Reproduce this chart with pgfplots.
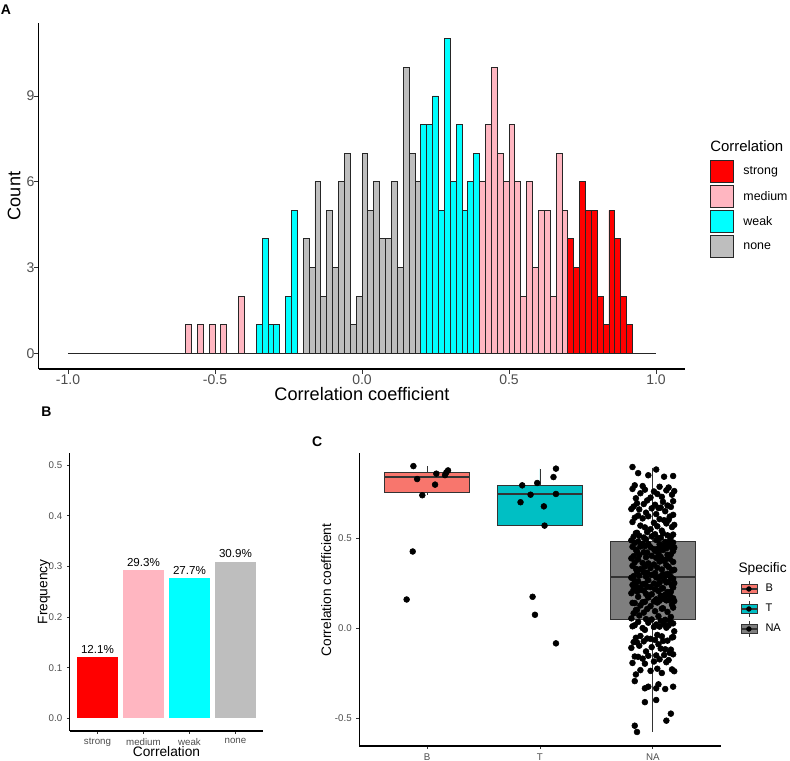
\documentclass[border=0pt]{standalone}
\usepackage{pgfplots}
\pgfplotsset{compat=1.18}
\usepgfplotslibrary{statistics}
\usepackage{fontspec}
\setmainfont{Liberation Sans}
\definecolor{cstrong}{HTML}{FF0000}
\definecolor{cmedium}{HTML}{FFB6C1}
\definecolor{cweak}{HTML}{00FFFF}
\definecolor{cnone}{HTML}{BEBEBE}
\definecolor{cB}{HTML}{F8766D}
\definecolor{cT}{HTML}{00BFC4}
\definecolor{cNA}{HTML}{7F7F7F}
\definecolor{g20}{HTML}{333333}
\definecolor{g30}{HTML}{4D4D4D}
\newcommand{\fs}[1]{\fontsize{#1}{#1}\selectfont}
\pgfplotsset{gg/.style={
  scale only axis, clip=false, anchor=south west,
  axis x line*=bottom, axis y line*=left,
  axis line style={black, line width=0.8pt},
  tick style={g20, line width=0.6pt},
  tick align=outside,
  ticklabel style={text=g30},
  every axis label/.append style={text=black},
}}
\begin{document}
\begin{tikzpicture}
\useasboundingbox (0,0) rectangle (592.5pt,-570.75pt);
% ---------------- Panel A ----------------
\begin{axis}[gg, at={(28.95pt,-276.75pt)}, width=485.1pt, height=259.5pt,
  xmin=-1.1, xmax=1.1, ymin=-0.55, ymax=11.55,
  xtick={-1,-0.5,0,0.5,1}, xticklabels={-1.0,-0.5,0.0,0.5,1.0},
  ytick={0,3,6,9}, yticklabels={0,3,6,9},
  major tick length=3.4pt,
  ticklabel style={font=\fs{10.5}},
  xticklabel style={inner sep=1pt, yshift=0.5pt},
  yticklabel style={inner sep=1.5pt, xshift=2pt},
  xlabel={Correlation coefficient}, ylabel={Count},
  label style={font=\fs{13.6}, inner sep=0pt},
  xlabel style={at={(axis description cs:0.5,-0.072)}, anchor=center},
  ylabel style={at={(axis description cs:-0.038,0.5)}, anchor=center},
  legend style={at={(axis description cs:1.0376,0.604)}, anchor=north west, draw=none, fill=none,
    inner sep=0pt, row sep=2pt, column sep=5.5pt, font=\fs{9.3}, text=black},
  legend cell align=left,
  legend image code/.code={\draw[#1, line width=0.6pt] (0pt,-8.1pt) rectangle (17pt,8.1pt);},
]
\addplot[black!85, line width=0.6pt, forget plot] coordinates {(-1,0) (1,0)};
\addplot[ybar, bar width=0.02, bar shift=0pt, fill=cstrong, draw=black!85, line width=0.6pt] coordinates {
(0.71,4) (0.73,3) (0.75,6) (0.77,5) (0.79,5) (0.81,2) (0.83,1) (0.85,5) (0.87,4) (0.89,2) (0.91,1)};
\addlegendentry{strong}
\addplot[ybar, bar width=0.02, bar shift=0pt, fill=cmedium, draw=black!85, line width=0.6pt] coordinates {
(-0.59,1) (-0.55,1) (-0.51,1) (-0.47,1) (-0.41,2)
(0.41,6) (0.43,8) (0.45,10) (0.47,7) (0.49,6) (0.51,8) (0.53,6) (0.55,2) (0.57,6) (0.59,3)
(0.61,5) (0.63,5) (0.65,2) (0.67,7) (0.69,5)};
\addlegendentry{medium}
\addplot[ybar, bar width=0.02, bar shift=0pt, fill=cweak, draw=black!85, line width=0.6pt] coordinates {
(-0.35,1) (-0.33,4) (-0.31,1) (-0.29,1) (-0.25,2) (-0.23,5)
(0.21,8) (0.23,8) (0.25,9) (0.27,5) (0.29,11) (0.31,6) (0.33,8) (0.35,5) (0.37,6) (0.39,7)};
\addlegendentry{weak}
\addplot[ybar, bar width=0.02, bar shift=0pt, fill=cnone, draw=black!85, line width=0.6pt] coordinates {
(-0.19,4) (-0.17,3) (-0.15,6) (-0.13,2) (-0.11,5) (-0.09,3) (-0.07,6) (-0.05,7) (-0.03,1) (-0.01,2)
(0.01,7) (0.03,5) (0.05,6) (0.07,4) (0.09,4) (0.11,6) (0.13,3) (0.15,10) (0.17,7) (0.19,6)};
\addlegendentry{none}
\end{axis}
% ---------------- Panel B ----------------
\begin{axis}[gg, at={(52.4pt,-548.25pt)}, width=144.9pt, height=208.8pt,
  xmin=0.4, xmax=4.6, ymin=-0.025, ymax=0.525,
  xtick={1,2,3,4}, xticklabels={strong,medium,weak,none},
  ytick={0,0.1,0.2,0.3,0.4,0.5}, yticklabels={0.0,0.1,0.2,0.3,0.4,0.5},
  ticklabel style={font=\fs{7.3}}, major tick length=2.2pt,
  xlabel={Correlation}, ylabel={Frequency},
  label style={font=\fs{10.3}, inner sep=0pt},
  xlabel style={at={(axis description cs:0.5,-0.0754)}, anchor=center},
  ylabel style={at={(axis description cs:-0.134,0.5)}, anchor=center},
  nodes near coords, point meta=explicit symbolic,
  every node near coord/.append style={font=\fs{8.7}, text=black, anchor=base, inner sep=0pt, yshift=3pt},
]
\addplot[ybar, bar width=0.9, bar shift=0pt, fill=cstrong, draw=none] coordinates {(1,0.121) [12.1\%]};
\addplot[ybar, bar width=0.9, bar shift=0pt, fill=cmedium, draw=none] coordinates {(2,0.293) [29.3\%]};
\addplot[ybar, bar width=0.9, bar shift=0pt, fill=cweak, draw=none] coordinates {(3,0.277) [27.7\%]};
\addplot[ybar, bar width=0.9, bar shift=0pt, fill=cnone, draw=none] coordinates {(4,0.309) [30.9\%]};
\end{axis}
% ---------------- Panel C ----------------
\begin{axis}[gg, at={(269.5pt,-559.5pt)}, width=270.9pt, height=219.5pt,
  xmin=0.4, xmax=3.6, ymin=-0.654, ymax=0.974,
  xtick={1,2,3}, xticklabels={B,T,NA},
  ytick={-0.5,0,0.5}, yticklabels={-0.5,0.0,0.5},
  ticklabel style={font=\fs{7.3}}, major tick length=2.2pt,
  ylabel={Correlation coefficient},
  label style={font=\fs{10.3}, inner sep=0pt},
  ylabel style={at={(axis description cs:-0.092,0.533)}, anchor=center},
  boxplot/draw direction=y,
  boxplot/every median/.style={line width=1.5pt},
  legend style={at={(axis description cs:1.054,0.565)}, anchor=north west, draw=none, fill=none,
    inner sep=0pt, row sep=2.9pt, column sep=4pt, font=\fs{8.3}, text=black},
  legend cell align=left,
]
\addplot[forget plot, boxplot prepared={draw position=1, median=0.843, upper quartile=0.868, lower quartile=0.757,
  upper whisker=0.902, lower whisker=0.741, box extend=0.75, whisker extend=0},
  fill=cB, draw=g20, line width=0.6pt] coordinates {};
\addplot[forget plot, boxplot prepared={draw position=2, median=0.746, upper quartile=0.798, lower quartile=0.572,
  upper whisker=0.889, lower whisker=0.572, box extend=0.75, whisker extend=0},
  fill=cT, draw=g20, line width=0.6pt] coordinates {};
\addplot[forget plot, boxplot prepared={draw position=3, median=0.287, upper quartile=0.485, lower quartile=0.050,
  upper whisker=0.894, lower whisker=-0.574, box extend=0.75, whisker extend=0},
  fill=cNA, draw=g20, line width=0.6pt] coordinates {};
% jittered points, group B
\addplot[forget plot, only marks, mark=*, mark size=2.2pt, mark options={fill=black, draw=black}] coordinates {
(0.879,0.903) (0.912,0.831) (0.958,0.741) (1.071,0.800) (1.082,0.861) (1.159,0.853) (1.171,0.868)
(1.186,0.879) (0.873,0.428) (0.819,0.161)};
% group T
\addplot[forget plot, only marks, mark=*, mark size=2.2pt, mark options={fill=black, draw=black}] coordinates {
(1.843,0.796) (1.976,0.809) (1.917,0.744) (2.142,0.748) (1.828,0.702) (2.035,0.679) (2.041,0.572)
(2.120,0.842) (2.142,0.889) (1.935,0.176) (1.956,0.076) (2.142,-0.083)};
% group NA
\addplot[forget plot, only marks, mark=*, mark size=2.2pt, mark options={fill=black, draw=black}] coordinates {
(2.86,-0.576) (2.84,-0.541) (3.12,-0.513) (3.16,-0.474) (2.93,-0.410) (3.03,-0.398)
(2.84,-0.293) (2.93,-0.333) (2.96,-0.324) (3.03,-0.333) (3.05,-0.311) (3.11,-0.337) (3.18,-0.324)
(2.85,-0.256) (3.08,-0.248)
(2.98,-0.236) (3.17,-0.228) (2.89,-0.232) (3.04,-0.224) (3.19,-0.238)
(2.93,-0.196) (3.12,-0.188) (2.82,-0.192) (3.01,-0.184)
(3.14,-0.176) (2.91,-0.168) (3.06,-0.172)
(2.84,-0.156) (3.10,-0.148) (2.96,-0.152) (3.18,-0.144) (2.87,-0.158) (3.03,-0.150)
(3.15,-0.136) (2.94,-0.128)
(3.11,-0.116) (2.81,-0.108) (3.07,-0.112) (2.99,-0.104) (3.16,-0.118)
(2.88,-0.096) (3.05,-0.088)
(2.83,-0.076) (3.13,-0.068) (2.92,-0.072) (3.02,-0.064) (2.86,-0.078) (3.09,-0.070)
(2.95,-0.056) (3.18,-0.048) (2.85,-0.052) (3.08,-0.044) (2.98,-0.058) (3.17,-0.050) (2.89,-0.042)
(3.04,-0.036)
(3.19,-0.016) (2.93,-0.008)
(3.12,0.004) (2.82,0.012) (3.01,0.008) (3.14,0.016) (2.91,0.002) (3.06,0.010) (2.84,0.018)
(3.10,0.024) (2.96,0.032) (3.18,0.028) (2.87,0.036) (3.03,0.022)
(3.15,0.044) (2.94,0.052) (3.11,0.048) (2.81,0.056) (3.07,0.042) (2.99,0.050)
(3.16,0.064) (2.88,0.072) (3.05,0.068)
(2.83,0.084) (3.13,0.092) (2.92,0.088) (3.02,0.096)
(2.86,0.104) (3.09,0.112) (2.95,0.108) (3.18,0.116) (2.85,0.102) (3.08,0.110)
(2.98,0.124) (3.17,0.132) (2.89,0.128)
(3.04,0.144) (3.19,0.152) (2.93,0.148) (3.12,0.156) (2.82,0.142) (3.01,0.150) (3.14,0.158) (2.91,0.146) (3.06,0.154) (2.84,0.141)
(3.10,0.164) (2.96,0.172) (3.18,0.168) (2.87,0.176) (3.03,0.162)
(3.15,0.184) (2.94,0.192) (3.11,0.188) (2.81,0.196) (3.07,0.182) (2.99,0.190)
(3.16,0.204) (2.88,0.212) (3.05,0.208) (2.83,0.216) (3.13,0.202) (2.92,0.210) (3.02,0.218) (2.86,0.206)
(3.09,0.224) (2.95,0.232) (3.18,0.228) (2.85,0.236) (3.08,0.222) (2.98,0.230) (3.17,0.238) (2.89,0.226)
(3.04,0.244) (3.19,0.252) (2.93,0.248) (3.12,0.256) (2.82,0.242) (3.01,0.250) (3.14,0.258) (2.91,0.246) (3.06,0.254)
(2.84,0.264) (3.10,0.272) (2.96,0.268) (3.18,0.276) (2.87,0.262)
(3.03,0.284) (3.15,0.292) (2.94,0.288) (3.11,0.296) (2.81,0.282) (3.07,0.290) (2.99,0.298) (3.16,0.286) (2.88,0.294) (3.05,0.281) (2.83,0.291)
(3.13,0.304) (2.92,0.312) (3.02,0.308) (2.86,0.316) (3.09,0.302) (2.95,0.310)
(3.18,0.324) (2.85,0.332) (3.08,0.328) (2.98,0.336) (3.17,0.322) (2.89,0.330) (3.04,0.338) (3.19,0.326)
(2.93,0.344) (3.12,0.352) (2.82,0.348) (3.01,0.356) (3.14,0.342)
(2.91,0.364) (3.06,0.372) (2.84,0.368) (3.10,0.376) (2.96,0.362) (3.18,0.370)
(2.87,0.384) (3.03,0.392) (3.15,0.388) (2.94,0.396) (3.11,0.382) (2.81,0.390) (3.07,0.398)
(2.99,0.404) (3.16,0.412) (2.88,0.408) (3.05,0.416) (2.83,0.402) (3.13,0.410)
(2.92,0.424) (3.02,0.432) (2.86,0.428) (3.09,0.436) (2.95,0.422) (3.18,0.430) (2.85,0.438)
(3.08,0.444) (2.98,0.452) (3.17,0.448) (2.89,0.456) (3.04,0.442) (3.19,0.450) (2.93,0.458) (3.12,0.446) (2.82,0.454) (3.01,0.441)
(3.14,0.464) (2.91,0.472) (3.06,0.468) (2.84,0.476) (3.10,0.462) (2.96,0.470) (3.18,0.478)
(2.87,0.484) (3.03,0.492) (3.15,0.488) (2.94,0.496) (3.11,0.482) (2.81,0.490)
(3.07,0.504) (2.99,0.512) (3.16,0.508) (2.88,0.516) (3.05,0.502) (2.83,0.510) (3.13,0.518) (2.92,0.506)
(3.02,0.524) (2.86,0.532) (3.09,0.528) (2.95,0.536) (3.18,0.522) (2.85,0.530)
(3.08,0.544) (2.98,0.552)
(3.17,0.564) (2.89,0.572) (3.04,0.568) (3.19,0.576) (2.93,0.562)
(3.12,0.584) (2.82,0.592) (3.01,0.588)
(3.14,0.604) (2.91,0.612) (3.06,0.608) (2.84,0.616) (3.10,0.602)
(2.96,0.624) (3.18,0.632) (2.87,0.628) (3.03,0.636) (3.15,0.622)
(2.94,0.644) (3.11,0.652)
(2.81,0.664) (3.07,0.672) (2.99,0.668) (3.16,0.676) (2.88,0.662) (3.05,0.670) (2.83,0.678)
(3.13,0.684) (2.92,0.692) (3.02,0.688) (2.86,0.696)
(3.09,0.704) (2.95,0.712) (3.18,0.708)
(2.85,0.724) (3.08,0.732) (2.98,0.728)
(3.17,0.744) (2.89,0.752) (3.04,0.748)
(3.19,0.764) (2.93,0.772) (3.12,0.768) (2.82,0.776) (3.01,0.762)
(3.14,0.784) (2.91,0.792) (3.06,0.788) (2.84,0.796)
(3.10,0.844) (2.96,0.852) (3.18,0.848)
(2.87,0.864) (3.03,0.884) (2.82,0.898)};
\addlegendimage{legend image code/.code={
  \draw[g20, line width=0.5pt] (6pt,-5.8pt) -- (6pt,5.8pt);
  \draw[g20, fill=cB, line width=0.5pt] (0pt,-3.4pt) rectangle (12pt,3.4pt);
  \draw[g20, line width=0.9pt] (0pt,0pt) -- (12pt,0pt);
  \fill[black] (6pt,0pt) circle (1.8pt);}}
\addlegendentry{B}
\addlegendimage{legend image code/.code={
  \draw[g20, line width=0.5pt] (6pt,-5.8pt) -- (6pt,5.8pt);
  \draw[g20, fill=cT, line width=0.5pt] (0pt,-3.4pt) rectangle (12pt,3.4pt);
  \draw[g20, line width=0.9pt] (0pt,0pt) -- (12pt,0pt);
  \fill[black] (6pt,0pt) circle (1.8pt);}}
\addlegendentry{T}
\addlegendimage{legend image code/.code={
  \draw[g20, line width=0.5pt] (6pt,-5.8pt) -- (6pt,5.8pt);
  \draw[g20, fill=cNA, line width=0.5pt] (0pt,-3.4pt) rectangle (12pt,3.4pt);
  \draw[g20, line width=0.9pt] (0pt,0pt) -- (12pt,0pt);
  \fill[black] (6pt,0pt) circle (1.8pt);}}
\addlegendentry{NA}
\end{axis}
% ---------------- titles and panel letters ----------------
\node[anchor=base west, inner sep=0pt, font=\fs{10.5}\bfseries] at (0.4pt,-10.5pt) {A};
\node[anchor=base west, inner sep=0pt, font=\fs{10.5}\bfseries] at (30.75pt,-312pt) {B};
\node[anchor=base west, inner sep=0pt, font=\fs{10.5}\bfseries] at (233.8pt,-335pt) {C};
\node[anchor=base west, inner sep=0pt, font=\fs{11.2}] at (532.5pt,-113.25pt) {Correlation};
\node[anchor=base west, inner sep=0pt, font=\fs{10.3}] at (553.7pt,-429pt) {Specific};
\end{tikzpicture}
\end{document}
